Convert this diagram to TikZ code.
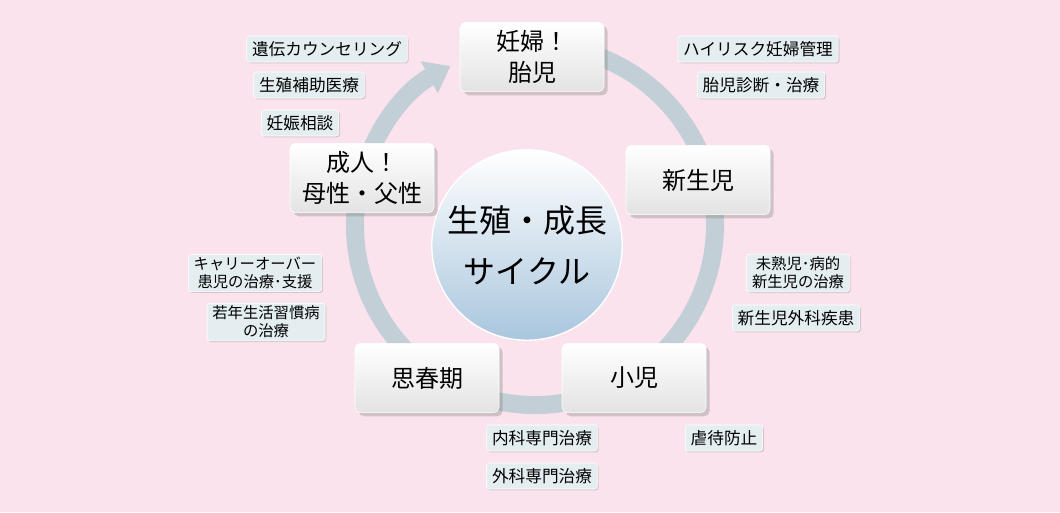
\documentclass[tikz,border=0pt]{standalone}
\usepackage{fontspec}
\setmainfont{Noto Sans CJK JP}
\usetikzlibrary{shadows,arrows.meta}
\definecolor{bgpink}{HTML}{FBE3EE}
\definecolor{ringgray}{HTML}{C3CFD6}
\definecolor{tagfill}{HTML}{E4EEF1}
\definecolor{ballblue}{HTML}{A9C6DE}
\tikzset{
  stage/.style={rounded corners=4pt, top color=white, bottom color=gray!22,
    draw=white, minimum width=108pt, minimum height=52pt, align=center,
    font=\fontsize{18}{23}\selectfont, drop shadow={opacity=.35}},
  tag/.style={rounded corners=2pt, fill=tagfill, draw=white, minimum height=19.5pt,
    inner xsep=4pt, align=center, font=\fontsize{12.5}{14}\selectfont,
    drop shadow={opacity=.3, shadow xshift=1pt, shadow yshift=-1pt}},
  tagtwo/.style={tag, font=\fontsize{11.5}{13.5}\selectfont, inner ysep=2pt}
}
\begin{document}
\begin{tikzpicture}[x=0.75pt,y=-0.75pt]
\fill[bgpink] (0,0) rectangle (1060,512);
\useasboundingbox (0,0) rectangle (1060,512);
% ring
\coordinate (hub) at (535,225);
\draw[ringgray, line width=13.5pt, -{Triangle[length=18pt,width=26pt]}]
  ([shift={(80:135pt)}]hub) arc[start angle=80, end angle=-242, radius=135pt];
% centre
\node[circle, minimum size=134pt, draw=white, line width=1pt,
  top color=white, bottom color=ballblue, align=center,
  font=\fontsize{24}{38}\selectfont] (core) at (527,245) {生殖・成長\\サイクル};
% stages
\node[stage] (fetus) at (532,57) {妊婦！\\胎児};
\node[stage] (newborn) at (698,180) {新生児};
\node[stage] (child) at (634,378) {小児};
\node[stage] (teen) at (427,378) {思春期};
\node[stage] (adult) at (362,178) {成人！\\母性・父性};
% tags
\node[tag] (gene) at (327,49) {遺伝カウンセリング};
\node[tag] (art) at (309,85) {生殖補助医療};
\node[tag] (preg) at (300,123) {妊娠相談};
\node[tag] (risk) at (758,49) {ハイリスク妊婦管理};
\node[tag] (diag) at (761,85) {胎児診断・治療};
\node[tagtwo] (prem) at (798,273) {未熟児･病的\\新生児の治療};
\node[tag] (surgnb) at (796,318) {新生児外科疾患};
\node[tagtwo] (carry) at (255,273) {キャリーオーバー\\患児の治療･支援};
\node[tagtwo] (life) at (266,322) {若年生活習慣病\\の治療};
\node[tag] (med) at (542,438) {内科専門治療};
\node[tag] (surg) at (542,476) {外科専門治療};
\node[tag] (abuse) at (724,438) {虐待防止};
\end{tikzpicture}
\end{document}
